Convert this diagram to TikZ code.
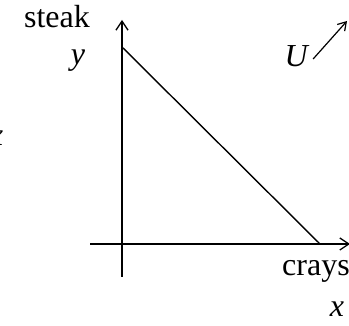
\documentclass[tikz,border=0pt]{standalone}
\usepackage{fontspec}
\setmainfont{Liberation Serif}
\usepackage{tikz}
\usetikzlibrary{arrows.meta,positioning}
\newcommand{\vr}[1]{\textit{#1}}

\begin{document}
\begin{tikzpicture}[x=1pt,y=-1pt,line width=1.4pt,
    every node/.style={font=\fontsize{32}{36}\selectfont,inner sep=0pt},
    axis/.style={-{Straight Barb[length=9pt,width=12pt,line width=1.3pt]}}]
  \useasboundingbox (0,0) rectangle (349,326);
  % axes
  \coordinate (o) at (122,244);
  \coordinate (ybot) at (122,277);
  \coordinate (ytop) at (122,20);
  \coordinate (xleft) at (90,244);
  \coordinate (xright) at (350,244);
  \draw[axis] (ybot) -- (ytop);
  \draw[axis] (xleft) -- (xright);
  % budget line
  \coordinate (yint) at (122,47);
  \coordinate (xint) at (320,244);
  \draw (yint) -- (xint);
  % labels
  \node (steak) at (57,17) {steak};
  \node (ylab) at (78,61) {\vr{y}};
  \node (crays) at (316,271) {crays};
  \node (xlab) at (337,309) {\vr{x}};
  \node (xcut) at (-4,138) {\vr{x}};
  \node (ulab) at (297,56) {\vr{U}};
  \coordinate (utip) at (347,21);
  \draw[-{Straight Barb[length=8pt,width=10pt,line width=1.2pt]},line width=1.2pt]
    (ulab.east) ++(3,3) -- (utip);
\end{tikzpicture}
\end{document}
